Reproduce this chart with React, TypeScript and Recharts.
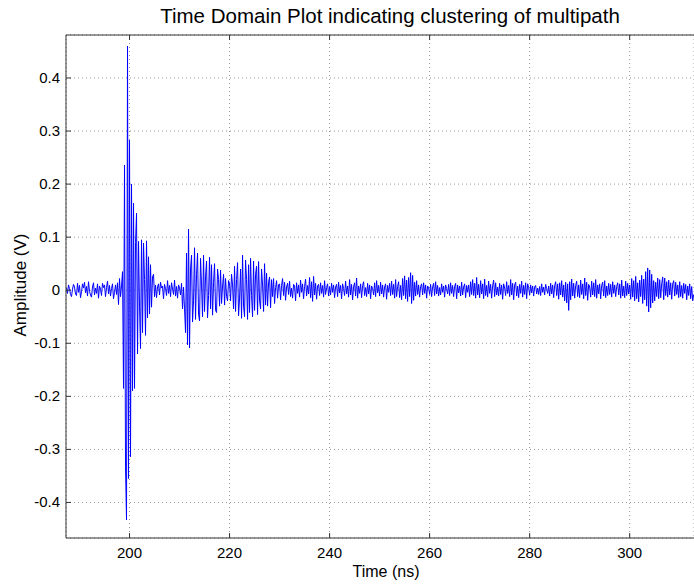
import React from "react";
import {
  LineChart,
  Line,
  XAxis,
  YAxis,
  CartesianGrid,
  ReferenceLine,
  Label,
} from "recharts";

const FONT = '"Liberation Sans", Arial, Helvetica, sans-serif';

// sampling of the trace (ns)
const SAMPLE_STEP = 0.2;

// amplitude (V), segment by segment
const PRE_NOISE_START = 187.4;
const preNoise = [
  0.004, -0.006, 0.01, 0.003, -0.008, -0.012, 0.002, 0.011, 0.006, -0.007,
  -0.01, 0.013, -0.004, 0.009, -0.014, -0.003, 0.012, 0.004, 0.015, -0.005,
  0.007, -0.011, 0.016, -0.002, -0.009, -0.013, 0.006, 0.014, -0.009, 0.004,
  -0.006, 0.012, -0.015, 0.008, 0.002, -0.01, 0.013, 0.005, 0.01, -0.012,
  0.005, 0.017, -0.007, 0.009, -0.011, 0.003, 0.012, -0.016, -0.004, 0.01,
  -0.008, 0.014, -0.027, 0.022, -0.012, 0.008,
];

const MAIN_BURST_START = 198.6;
const mainBurst = [
  0.035, -0.185, 0.236, -0.333, -0.433, 0.46, -0.355, 0.283, -0.314, 0.2,
  -0.19, 0.164, -0.185, 0.09, 0.145, -0.12, 0.092, -0.03, -0.11, 0.095,
  -0.08, 0.089, 0.02, -0.085, 0.093, -0.052, 0.063, -0.045, 0.048, -0.032,
  0.025, 0.03, -0.012,
];

const GAP_START = 205.2;
const gapNoise = [
  0.01, -0.014, 0.006, 0.012, -0.009, 0.015, 0.004, 0.008, -0.016, 0.011,
  0.003, -0.01, 0.018, -0.006, 0.009, -0.012, 0.014, 0.002, -0.008, 0.019,
  -0.011, 0.007, -0.015, 0.01, 0.004, -0.009, 0.013, -0.035, 0.006,
];

const SECOND_CLUSTER_START = 211.0;
const secondCluster = [
  -0.035, -0.08, 0.07, -0.103, 0.115, -0.109, 0.04, 0.066, -0.06, -0.02,
  0.08, -0.055, 0.03, 0.07, -0.045, -0.058, 0.06, 0.01, -0.05, 0.066,
  -0.04, 0.025, 0.055, -0.052, -0.01, 0.062, -0.035, 0.048, -0.047, 0.015,
  0.05, -0.038, -0.042, 0.04, 0.02, -0.03, 0.038, -0.025, 0.008, 0.03,
  -0.028, 0.022, -0.012, -0.02, 0.018,
];

const THIRD_CLUSTER_START = 220.0;
const thirdCluster = [
  0.012, -0.02, 0.03, 0.01, -0.035, 0.045, -0.04, 0.02, 0.052, -0.048,
  -0.015, 0.04, -0.053, 0.066, -0.03, -0.05, 0.057, 0.02, -0.055, 0.048,
  -0.042, 0.06, -0.01, -0.05, 0.055, -0.038, 0.03, 0.045, -0.046, 0.054,
  -0.02, -0.035, 0.04, 0.01, -0.04, 0.05, -0.028, 0.032, -0.03, 0.015,
  0.025, -0.033, 0.02, -0.012, 0.022, -0.025, 0.005, 0.018, -0.015, 0.01,
];

const TAIL_A_START = 230.0;
const tailA = [
  0.012, -0.018, 0.009, 0.022, -0.01, 0.015, -0.019, 0.006, 0.013, -0.008,
  0.017, -0.012, 0.004, -0.015, 0.011, 0.008, -0.02, 0.014, -0.006, 0.01,
  -0.013, 0.019, -0.004, 0.012, -0.016, 0.007, 0.021, -0.011, 0.009, -0.007,
  0.024, -0.014, 0.016, -0.021, 0.026, -0.009, 0.013, -0.017, 0.008, 0.011,
  -0.01, 0.014, -0.006, 0.009, -0.013, 0.018, -0.008, 0.005, 0.012, -0.011,
  0.007, -0.009, 0.013, -0.004, 0.01, -0.014, 0.006, 0.011, -0.012, 0.015,
  -0.005, 0.009, -0.016, 0.012, 0.003, -0.01, 0.017, -0.007, 0.008, -0.013,
  0.02, -0.009, 0.011, -0.018, 0.006, 0.014, -0.011, 0.023, -0.015, 0.008,
  -0.006, 0.012, -0.014, 0.009, 0.016, -0.01, 0.005, -0.012, 0.013, -0.007,
  0.01, -0.016, 0.008, 0.003, -0.009, 0.014, -0.012, 0.018, -0.005, 0.009,
  -0.011, 0.015, -0.007, 0.01, -0.013, 0.006, 0.012, -0.017, 0.009, -0.004,
  0.013, -0.01, 0.017, -0.008, 0.011, -0.015, 0.02, -0.012, 0.007, 0.016,
  -0.014, 0.009, -0.018, 0.022, -0.01, 0.027, -0.016, 0.019, -0.021, 0.024,
  -0.012, 0.033, -0.025, 0.028, -0.019, 0.015, -0.011, 0.018, -0.008, 0.01,
  -0.013, 0.007, 0.012, -0.009, 0.014, -0.006, 0.01, -0.015, 0.008, 0.004,
  -0.008, 0.011, -0.012, 0.006, 0.013, -0.01, 0.016, -0.007, 0.009, -0.011,
  0.005, -0.009, 0.012, -0.004, 0.008, -0.013, 0.01, 0.003, -0.007, 0.011,
  -0.01, 0.014, -0.006, 0.009, -0.012, 0.007, 0.013, -0.016, 0.01, -0.005,
  0.008, -0.011, 0.015, -0.009, 0.006, 0.012, -0.014, 0.009, -0.004, 0.01,
  -0.012, 0.016, -0.008, 0.02, -0.01, 0.013, -0.015, 0.024, -0.009, 0.011,
];

const TAIL_B_START = 270.0;
const tailB = [
  -0.014, 0.018, -0.007, 0.012, -0.016, 0.021, -0.01, 0.009, -0.013, 0.017,
  -0.006, 0.011, -0.015, 0.008, 0.019, -0.012, 0.014, -0.009, 0.006, -0.011,
  0.013, -0.008, 0.01, -0.017, 0.012, 0.004, -0.01, 0.016, -0.006, 0.009,
  -0.012, 0.02, -0.009, 0.013, -0.018, 0.01, 0.015, -0.011, 0.008, -0.014,
  0.011, -0.006, 0.017, -0.013, 0.009, -0.008, 0.014, -0.016, 0.012, 0.005,
  -0.009, 0.01, -0.005, 0.008, -0.011, 0.006, 0.009, -0.007, 0.004, -0.008,
  0.007, -0.01, 0.012, -0.004, 0.006, -0.009, 0.011, 0.003, -0.006, 0.008,
  -0.011, 0.013, -0.007, 0.01, -0.014, 0.009, 0.016, -0.01, 0.012, -0.017,
  0.014, -0.009, 0.018, -0.013, 0.01, -0.02, 0.015, -0.024, 0.012, -0.038,
  0.016, -0.018, 0.021, -0.011, 0.013, -0.015, 0.009, 0.017, -0.012, 0.01,
  -0.014, 0.019, -0.008, 0.012, -0.016, 0.023, -0.01, 0.015, -0.019, 0.011,
  0.006, -0.013, 0.017, -0.009, 0.014, -0.012, 0.02, -0.015, 0.01, -0.007,
  0.012, -0.016, 0.009, 0.015, -0.011, 0.018, -0.014, 0.008, -0.01, 0.013,
  -0.008, 0.011, -0.013, 0.016, -0.006, 0.01, -0.012, 0.007, 0.014, -0.009,
  0.012, -0.015, 0.019, -0.011, 0.008, -0.014, 0.017, -0.01, 0.013, -0.007,
  0.01, -0.017, 0.022, -0.013, 0.018, -0.02, 0.026, -0.016, 0.014, -0.022,
  0.019, -0.012, 0.028, -0.025, 0.021, -0.018, 0.035, -0.03, 0.042, -0.041,
  0.038, -0.033, 0.03, -0.024, 0.018, -0.02, 0.015, -0.012, 0.023, -0.016,
  0.02, -0.014, 0.012, 0.025, -0.018, 0.023, -0.01, 0.016, -0.013, 0.019,
  -0.009, 0.014, -0.017, 0.012, 0.018, -0.011, 0.015, -0.008, 0.01, -0.014,
  0.016, -0.012, 0.009, -0.015, 0.013, -0.006, 0.011, -0.018, 0.008, -0.01,
  0.012, -0.016, 0.007, -0.02, -0.008,
];

const segments: [number, number[]][] = [
  [PRE_NOISE_START, preNoise],
  [MAIN_BURST_START, mainBurst],
  [GAP_START, gapNoise],
  [SECOND_CLUSTER_START, secondCluster],
  [THIRD_CLUSTER_START, thirdCluster],
  [TAIL_A_START, tailA],
  [TAIL_B_START, tailB],
];

const X_TICKS = [200, 220, 240, 260, 280, 300];
const Y_TICKS = [-0.4, -0.3, -0.2, -0.1, 0, 0.1, 0.2, 0.3, 0.4];
const X_DOMAIN = [187.3, 312.86];
const Y_DOMAIN = [-0.467, 0.481];

const data = segments.flatMap(([start, values]) =>
  values.map((v, i) => ({ t: +(start + i * SAMPLE_STEP).toFixed(2), v }))
);

// plot box in page pixels
const PLOT_LEFT = 66;
const PLOT_TOP = 35;
const PLOT_BOTTOM = 538;
const AXIS_COLOR = "#333";

function XTick({ x, payload }: any) {
  return (
    <g>
      <line x1={x} x2={x} y1={PLOT_BOTTOM} y2={PLOT_BOTTOM - 5} stroke={AXIS_COLOR} />
      <line x1={x} x2={x} y1={PLOT_TOP} y2={PLOT_TOP + 5} stroke={AXIS_COLOR} />
      <text x={x} y={558} textAnchor="middle" fontSize={15} fontFamily={FONT} fill="#000">
        {payload.value}
      </text>
    </g>
  );
}

function YTick({ y, payload }: any) {
  return (
    <g>
      <line x1={PLOT_LEFT} x2={PLOT_LEFT + 5} y1={y} y2={y} stroke={AXIS_COLOR} />
      <text x={60} y={y + 5} textAnchor="end" fontSize={15} fontFamily={FONT} fill="#000">
        {String(payload.value)}
      </text>
    </g>
  );
}

export default function App() {
  return (
    <div style={{ position: "absolute", left: 0, top: 0, width: 694, height: 586, background: "#fff" }}>
      <div
        style={{
          position: "absolute",
          left: 0,
          width: 780,
          top: 4,
          textAlign: "center",
          fontFamily: FONT,
          fontSize: 20.5,
          color: "#000",
          whiteSpace: "nowrap",
        }}
      >
        Time Domain Plot indicating clustering of multipath
      </div>
      <LineChart
        width={694}
        height={586}
        data={data}
        margin={{ top: PLOT_TOP, right: 0, bottom: 0, left: 0 }}
      >
        <CartesianGrid stroke="#999" strokeDasharray="1 3" />
        <XAxis
          dataKey="t"
          type="number"
          domain={X_DOMAIN}
          ticks={X_TICKS}
          allowDataOverflow
          height={586 - PLOT_BOTTOM}
          axisLine={{ stroke: AXIS_COLOR }}
          tickLine={false}
          tick={<XTick />}
          interval={0}
        >
          <Label
            content={() => (
              <text x={386} y={577} textAnchor="middle" fontSize={16} fontFamily={FONT} fill="#000">
                Time (ns)
              </text>
            )}
          />
        </XAxis>
        <YAxis
          type="number"
          domain={Y_DOMAIN}
          ticks={Y_TICKS}
          allowDataOverflow
          width={PLOT_LEFT}
          axisLine={{ stroke: AXIS_COLOR }}
          tickLine={false}
          tick={<YTick />}
          interval={0}
        >
          <Label
            content={() => (
              <text
                x={26}
                y={285}
                transform="rotate(-90 26 285)"
                textAnchor="middle"
                fontSize={17}
                fontFamily={FONT}
                fill="#000"
              >
                Amplitude (V)
              </text>
            )}
          />
        </YAxis>
        <ReferenceLine y={Y_DOMAIN[1]} stroke={AXIS_COLOR} />
        <Line
          type="linear"
          dataKey="v"
          stroke="#0000ff"
          strokeWidth={1}
          dot={false}
          isAnimationActive={false}
        />
      </LineChart>
    </div>
  );
}
